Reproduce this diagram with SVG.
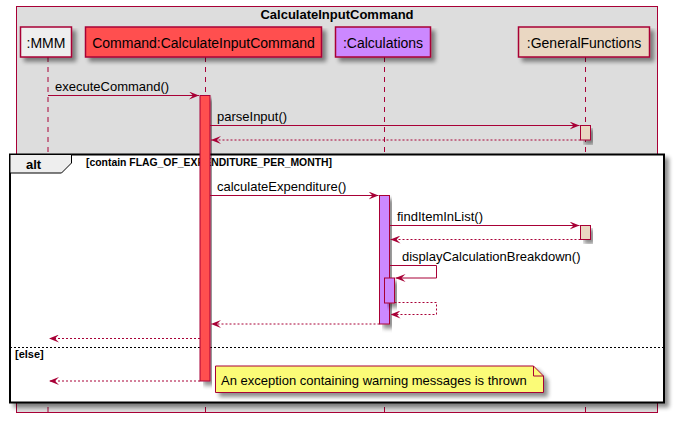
<svg xmlns="http://www.w3.org/2000/svg" width="676" height="425" viewBox="0 0 676 425">
<defs>
<filter id="sh" x="-10%" y="-10%" width="130%" height="140%">
<feGaussianBlur in="SourceAlpha" stdDeviation="2"/>
<feOffset dx="4" dy="4" result="o"/>
<feComponentTransfer><feFuncA type="linear" slope="0.45"/></feComponentTransfer>
<feMerge><feMergeNode/><feMergeNode in="SourceGraphic"/></feMerge>
</filter>
<marker id="ah" viewBox="0 0 10 8" refX="10" refY="4" markerWidth="10" markerHeight="8" markerUnits="userSpaceOnUse" orient="auto">
<polygon points="0,0 10,4 0,8 4,4" fill="#A80036"/>
</marker>
</defs>
<style>
text{font-family:"Liberation Sans",Arial,sans-serif;fill:#000}
.pt{font-size:14px}
.ml{font-size:13px}
.b{font-weight:bold}
.life{stroke:#A80036;stroke-width:1;stroke-dasharray:5,5;fill:none}
.part{stroke:#A80036;stroke-width:1.5}
.act{stroke:#A80036;stroke-width:1}
.msg{stroke:#A80036;stroke-width:1;fill:none}
.ret{stroke:#A80036;stroke-width:1;fill:none;stroke-dasharray:2,2}
</style>

<g id="box">
<rect x="16.5" y="6.5" width="641" height="406" fill="#DDDDDD" stroke="#A80036" stroke-width="1"/>
<text x="337" y="19" class="ml b" text-anchor="middle">CalculateInputCommand</text>
</g>

<g id="lifelines">
<line class="life" x1="48" y1="57" x2="48" y2="417"/>
<line class="life" x1="205.5" y1="57" x2="205.5" y2="417"/>
<line class="life" x1="384.5" y1="57" x2="384.5" y2="417"/>
<line class="life" x1="585.5" y1="57" x2="585.5" y2="417"/>
</g>

<g id="p-mmm">
<rect class="part" x="20.5" y="27" width="51" height="30" fill="#EEEEEE" filter="url(#sh)"/>
<text class="pt" x="46" y="47.5" text-anchor="middle">:MMM</text>
</g>
<g id="p-command">
<rect class="part" x="85.5" y="27" width="236" height="30" fill="#FF5050" filter="url(#sh)"/>
<text class="pt" x="203.5" y="47.5" text-anchor="middle">Command:CalculateInputCommand</text>
</g>
<g id="p-calculations">
<rect class="part" x="335.5" y="27" width="95" height="30" fill="#CC88FF" filter="url(#sh)"/>
<text class="pt" x="383" y="47.5" text-anchor="middle">:Calculations</text>
</g>
<g id="p-general">
<rect class="part" x="518.5" y="27" width="131" height="30" fill="#EAD7C2" filter="url(#sh)"/>
<text class="pt" x="584" y="47.5" text-anchor="middle">:GeneralFunctions</text>
</g>

<g id="alt-frame">
<rect x="10" y="154.5" width="654" height="248" fill="#FFFFFF" stroke="#000000" stroke-width="2" filter="url(#sh)"/>
<polygon points="10,154.5 71.5,154.5 71.5,163 61.5,173 10,173" fill="#EEEEEE" stroke="#000000" stroke-width="1"/>
<text x="26" y="169" class="ml b">alt</text>
<text x="86" y="166" class="b" style="font-size:11px" textLength="246" lengthAdjust="spacingAndGlyphs">[contain FLAG_OF_EXPENDITURE_PER_MONTH]</text>
<line x1="10" y1="347.5" x2="664" y2="347.5" stroke="#000000" stroke-width="1" stroke-dasharray="2,2"/>
<text x="15" y="358" class="b" style="font-size:11px">[else]</text>
</g>

<g id="activations">
<rect class="act" x="200" y="95.5" width="10" height="285.5" fill="#FF5050" filter="url(#sh)"/>
<rect class="act" x="580.5" y="125.5" width="10" height="14.5" fill="#EAD7C2" filter="url(#sh)"/>
<rect class="act" x="379.5" y="195.5" width="10" height="128.5" fill="#CC88FF" filter="url(#sh)"/>
<rect class="act" x="580.5" y="225.5" width="10" height="14" fill="#EAD7C2" filter="url(#sh)"/>
<rect class="act" x="384.5" y="278" width="10" height="25" fill="#CC88FF" filter="url(#sh)"/>
</g>

<g id="connectors">
<line class="msg" x1="48" y1="95.5" x2="199" y2="95.5" marker-end="url(#ah)"/>
<text class="ml" x="55" y="90.5">executeCommand()</text>
<line class="msg" x1="210" y1="125.5" x2="579.5" y2="125.5" marker-end="url(#ah)"/>
<text class="ml" x="217" y="120.5">parseInput()</text>
<line class="ret" x1="580.5" y1="140" x2="211" y2="140" marker-end="url(#ah)"/>
<line class="msg" x1="210" y1="195.5" x2="378.5" y2="195.5" marker-end="url(#ah)"/>
<text class="ml" x="217" y="190.5">calculateExpenditure()</text>
<line class="msg" x1="389.5" y1="225.5" x2="579.5" y2="225.5" marker-end="url(#ah)"/>
<text class="ml" x="397" y="220.5">findItemInList()</text>
<line class="ret" x1="580.5" y1="239.5" x2="390.5" y2="239.5" marker-end="url(#ah)"/>
<polyline class="msg" points="389.5,265.5 436.5,265.5 436.5,278 395.5,278" marker-end="url(#ah)"/>
<text class="ml" x="402" y="260.5">displayCalculationBreakdown()</text>
<polyline class="ret" points="394.5,302.5 436.5,302.5 436.5,314.5 390.5,314.5" marker-end="url(#ah)"/>
<line class="ret" x1="379.5" y1="324" x2="211" y2="324" marker-end="url(#ah)"/>
<line class="ret" x1="200" y1="338.5" x2="49" y2="338.5" marker-end="url(#ah)"/>
<line class="ret" x1="200" y1="381" x2="49" y2="381" marker-end="url(#ah)"/>
</g>

<g id="note">
<path d="M215.5,366 L533.5,366 L543.5,376 L543.5,392.5 L215.5,392.5 Z" fill="#FBFB77" stroke="#A80036" stroke-width="1" filter="url(#sh)"/>
<path d="M533.5,366 L533.5,376 L543.5,376" fill="none" stroke="#A80036" stroke-width="1"/>
<text class="ml" x="221" y="385">An exception containing warning messages is thrown</text>
</g>
</svg>
